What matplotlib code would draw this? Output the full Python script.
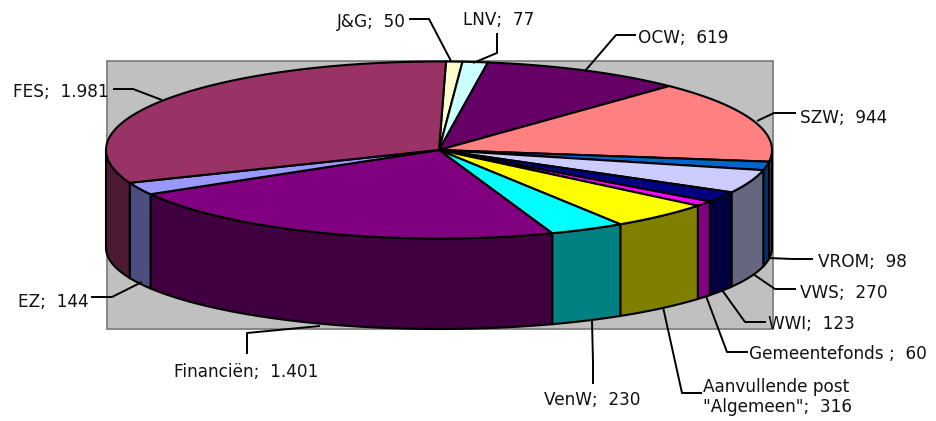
import matplotlib
matplotlib.use("Agg")
import matplotlib.pyplot as plt
import numpy as np

names = ["J&G", "LNV", "OCW", "SZW", "VROM", "VWS", "WWI", "Gemeentefonds ",
         "Aanvullende post\n\"Algemeen\"", "VenW", "Financiën", "EZ", "FES"]
values = [50, 77, 619, 944, 98, 270, 123, 60, 316, 230, 1401, 144, 1981]
value_text = ["50", "77", "619", "944", "98", "270", "123", "60", "316", "230",
              "1.401", "144", "1.981"]
colors = ["#FFFFCC", "#CCFFFF", "#660066", "#FF8080", "#0066CC", "#CCCCFF", "#000080",
          "#FF00FF", "#FFFF00", "#00FFFF", "#800080", "#9999FF", "#993366"]

# where the labels sit, in pixels of the picture
label_x = [337, 463, 638, 800, 818, 800, 768, 749, 703, 544, 174, 18, 13]
label_y = [22, 20, 38, 118, 262, 293, 324, 354, 397, 400, 372, 302, 92]
# leader lines: text end, elbow, pie end
leaders = [
    [(409, 19), (429, 19), (451, 61)],
    [(497, 33), (497, 53), (473, 63)],
    [(636, 35), (616, 35), (585, 71)],
    [(796, 113), (774, 113), (757, 121)],
    [(813, 259), (793, 259), (768, 258)],
    [(796, 289), (775, 289), (753, 274)],
    [(766, 322), (745, 322), (722, 290)],
    [(748, 352), (727, 352), (706, 296)],
    [(702, 393), (682, 393), (663, 307)],
    [(593, 384), (593, 362), (592, 321)],
    [(247, 354), (247, 333), (320, 326)],
    [(91, 297), (112, 297), (142, 282)],
    [(113, 89), (133, 89), (162, 100)],
]

cx, rx = 439, 333
top_y, top_ry = 150, 88.5
bot_y, bot_ry = 248, 81
start = 1.2

fig = plt.figure(figsize=(9.37, 4.21), dpi=100)
ax = fig.add_axes([0, 0, 1, 1])
ax.set_xlim(0, 937)
ax.set_ylim(421, 0)
ax.axis("off")

# plot area behind the pie
ax.fill([107, 773, 773, 107], [61, 61, 329, 329], fc="#C0C0C0", ec="#808080", lw=1.3, zorder=1)

edges = start + np.cumsum([0] + values) / sum(values) * 360


def rim(a, b, y0, ry):
    t = np.radians(np.linspace(a, b, 200))
    return cx + rx * np.sin(t), y0 - ry * np.cos(t)


# side wall, only the front half shows
for i in range(len(values)):
    a = max(edges[i], 90)
    b = min(edges[i + 1], 270)
    if a >= b:
        continue
    xt, yt = rim(a, b, top_y, top_ry)
    xb, yb = rim(a, b, bot_y, bot_ry)
    dark = tuple(c * 0.5 for c in matplotlib.colors.to_rgb(colors[i]))
    ax.fill(np.r_[xt, xb[::-1]], np.r_[yt, yb[::-1]], fc=dark, ec="black", lw=1.5, zorder=2)

# top face
for i in range(len(values)):
    x, y = rim(edges[i], edges[i + 1], top_y, top_ry)
    ax.fill(np.r_[cx, x], np.r_[top_y, y], fc=colors[i], ec="black", lw=1.5, zorder=3)

for line in leaders:
    ax.plot([p[0] for p in line], [p[1] for p in line], color="black", lw=1.4, zorder=4,
            solid_capstyle="butt")

for i in range(len(values)):
    ax.text(label_x[i], label_y[i], names[i] + ";  " + value_text[i], fontsize=12.2,
            family="DejaVu Sans", color="#111111", ha="left", va="center",
            linespacing=1.15, zorder=5)

fig.savefig("out.png", dpi=100)
